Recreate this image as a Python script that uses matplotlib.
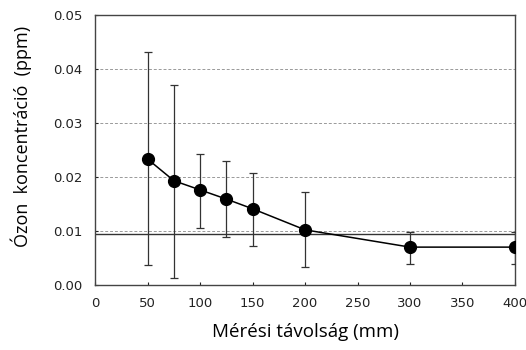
import matplotlib.pyplot as plt
import numpy as np

# distances (mm) and measured ozone concentration (ppm)
distance = [50, 75, 100, 125, 150, 200, 300, 400]
ozone = [0.0233, 0.0193, 0.0176, 0.0159, 0.0141, 0.0102, 0.0070, 0.0070]
err_low = [0.0037, 0.0013, 0.0106, 0.0089, 0.0072, 0.0033, 0.0039, 0.0039]
err_high = [0.0431, 0.0370, 0.0243, 0.0230, 0.0207, 0.0172, 0.0098, 0.0098]
limit = 0.0095

x_ticks = [0, 50, 100, 150, 200, 250, 300, 350, 400]
y_ticks = [0.00, 0.01, 0.02, 0.03, 0.04, 0.05]

fig = plt.figure(figsize=(5.26, 3.5), dpi=100)
ax = fig.add_axes([0.181, 0.186, 0.798, 0.771])

ozone = np.array(ozone)
yerr = [ozone - np.array(err_low), np.array(err_high) - ozone]

ax.axhline(limit, color='#333333', lw=1.0, zorder=2)
ax.errorbar(distance, ozone, yerr=yerr, fmt='-o', color='black', ecolor='#333333',
            elinewidth=0.9, capsize=3, capthick=0.9, lw=1.1, markersize=8.5, zorder=3)

ax.set_xlim(0, 400)
ax.set_ylim(0, 0.05)
ax.set_xticks(x_ticks)
ax.set_yticks(y_ticks)
ax.set_yticklabels(['%.2f' % v for v in y_ticks])
for y in y_ticks[1:-1]:
    ax.axhline(y, color='#999999', lw=0.7, ls=(0, (3, 2)), zorder=1)

ax.tick_params(axis='both', labelsize=9.5, length=2, direction='in', pad=9, colors='#222222')
for s in ax.spines.values():
    s.set_color('#444444')
    s.set_linewidth(1.0)

ax.set_xlabel('Mérési távolság (mm)', fontsize=13.5, family='Open Sans', labelpad=9)
ax.set_ylabel('Ózon  koncentráció  (ppm)', fontsize=13, family='Open Sans')
ax.yaxis.set_label_coords(-0.15, 0.55)

fig.savefig('out.png', dpi=100)
